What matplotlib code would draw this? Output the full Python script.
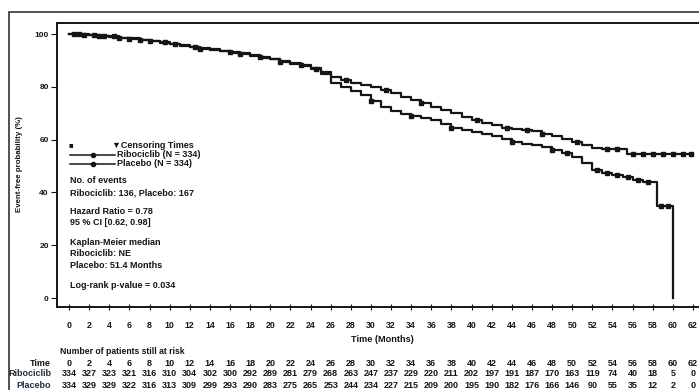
import numpy as np
import matplotlib
matplotlib.use("Agg")
import matplotlib.pyplot as plt
from matplotlib.patches import Rectangle
from matplotlib.transforms import blended_transform_factory

plt.rcParams['font.family'] = ['Liberation Sans', 'DejaVu Sans']

# --- data ---
ribo_t = [0, 1, 2, 3, 4, 5, 6, 7, 8, 9, 10, 11, 12, 13, 14, 15, 16, 17, 18, 19,
          20, 21, 22, 23, 24, 25, 26, 27, 28, 29, 30, 31, 32, 33, 34, 35, 36, 37,
          38, 39, 40, 41, 42, 43, 44, 45, 46, 47, 48, 49, 50, 51, 52, 53, 55.4, 62]
ribo_p = [100, 99.8, 99.6, 99.3, 99.0, 98.7, 98.4, 97.9, 97.4, 96.9, 96.4, 95.8,
          95.2, 94.7, 94.2, 93.7, 93.2, 92.7, 92.0, 91.3, 90.6, 89.9, 89.2, 88.2,
          87.0, 85.6, 83.6, 82.6, 81.6, 80.8, 80.0, 78.8, 77.5, 76.2, 75.0, 73.8,
          72.5, 71.2, 70.0, 68.6, 67.4, 66.4, 65.4, 64.6, 64.0, 63.6, 63.2, 62.2,
          61.2, 60.2, 59.0, 57.9, 56.8, 56.5, 54.5, 54.5]

plac_t = [0, 1, 2, 3, 4, 5, 6, 7, 8, 9, 10, 11, 12, 13, 14, 15, 16, 17, 18, 19,
          20, 21, 22, 23, 24, 25, 26, 27, 28, 29, 30, 31, 32, 33, 34, 35, 36, 37,
          38, 39, 40, 41, 42, 43, 44, 45, 46, 47, 48, 49, 50, 51, 52, 53, 54, 55,
          56, 57, 58.4, 60]
plac_p = [100, 99.9, 99.7, 99.4, 99.1, 98.7, 98.3, 97.8, 97.3, 96.8, 96.3, 95.6,
          95.0, 94.5, 94.0, 93.5, 93.0, 92.4, 91.8, 91.1, 90.4, 89.6, 88.8, 87.9,
          86.8, 84.8, 81.4, 79.8, 78.3, 76.9, 74.6, 72.3, 71.0, 69.8, 68.9, 68.1,
          67.4, 65.9, 64.4, 63.7, 63.0, 62.2, 61.4, 60.2, 59.1, 58.4, 57.8, 57.2,
          56.0, 54.8, 53.4, 51.0, 48.5, 47.3, 46.6, 45.8, 44.6, 43.9, 34.8, 0]

ribo_cens = [0.5, 1.5, 2.5, 3.5, 5, 7, 9.5, 12.5, 16, 19, 23, 27.5, 31.5, 35,
             40.5, 43.5, 45.5, 47, 50.5, 53.5, 54.5, 56, 57, 58, 59, 60, 61, 61.8]
plac_cens = [1, 3, 4.5, 6, 8, 10.5, 13, 17, 21, 24.5, 30, 34, 38, 44, 48,
             49.5, 52.5, 53.5, 54.5, 55.5, 56.5, 57.5, 58.8, 59.5]

risk_times = [0, 2, 4, 6, 8, 10, 12, 14, 16, 18, 20, 22, 24, 26, 28, 30, 32, 34,
              36, 38, 40, 42, 44, 46, 48, 50, 52, 54, 56, 58, 60, 62]
ribo_risk = [334, 327, 323, 321, 316, 310, 304, 302, 300, 292, 289, 281, 279, 268,
             263, 247, 237, 229, 220, 211, 202, 197, 191, 187, 170, 163, 119, 74,
             40, 18, 5, 0]
plac_risk = [334, 329, 329, 322, 316, 313, 309, 299, 293, 290, 283, 275, 265, 253,
             244, 234, 227, 215, 209, 200, 195, 190, 182, 176, 166, 146, 90, 55,
             35, 12, 2, 0]


def step_value(times, probs, t):
    i = np.searchsorted(times, t, side='right') - 1
    return probs[i]


ink = '#151515'
fig = plt.figure(figsize=(6.99, 3.90), dpi=100)
ax = fig.add_axes([57 / 699, 1 - 307 / 390, 1 - 57 / 699, (307 - 23) / 390])

# --- 1. curves ---
ax.plot(ribo_t, ribo_p, drawstyle='steps-post', color=ink, lw=1.6)
ax.plot(plac_t, plac_p, drawstyle='steps-post', color=ink, lw=1.6)
ax.plot(ribo_cens, [step_value(ribo_t, ribo_p, t) for t in ribo_cens], 's',
        color=ink, ms=2.6)
ax.plot(plac_cens, [step_value(plac_t, plac_p, t) for t in plac_cens], 's',
        color=ink, ms=2.6)

ax.set_xlim(-1.2, 62.6)
ax.set_ylim(-3.4, 104.2)
ax.set_xticks(risk_times)
ax.set_yticks([0, 20, 40, 60, 80, 100])
ax.tick_params(axis='x', direction='inout', length=4, width=0.8, pad=8,
               labelsize=6.3, colors=ink)
ax.tick_params(axis='y', direction='out', length=4, width=0.8, pad=2,
               labelsize=6, colors=ink)
for lab in ax.get_xticklabels() + ax.get_yticklabels():
    lab.set_fontweight('bold')
ax.spines['right'].set_visible(False)
for s in ['left', 'bottom', 'top']:
    ax.spines[s].set_linewidth(1.4)
    ax.spines[s].set_color(ink)

# --- 2. legend and statistics inside the plot ---
tkw = dict(fontsize=6.5, fontweight='bold', color=ink, va='center')
ax.text(-0.1, 57.6, '■', fontsize=5.5, color=ink, va='center')
ax.text(4.3, 57.6, '▼Censoring Times', **tkw)
ax.plot([0.1, 4.6], [54.2, 54.2], color=ink, lw=1.1)
ax.plot([2.4], [54.2], 'o', color=ink, ms=3)
ax.text(4.8, 54.2, 'Ribociclib (N = 334)', **tkw)
ax.plot([0.1, 4.6], [50.8, 50.8], color=ink, lw=1.1)
ax.plot([2.4], [50.8], 'o', color=ink, ms=3)
ax.text(4.8, 50.8, 'Placebo (N = 334)', **tkw)
ax.text(0.1, 44.7, 'No. of events', **tkw)
ax.text(0.1, 39.8, 'Ribociclib: 136, Placebo: 167', **tkw)
ax.text(0.1, 32.6, 'Hazard Ratio = 0.78', **tkw)
ax.text(0.1, 28.8, '95 % CI [0.62, 0.98]', **tkw)
ax.text(0.1, 21.2, 'Kaplan-Meier median', **tkw)
ax.text(0.1, 16.7, 'Ribociclib: NE', **tkw)
ax.text(0.1, 12.5, 'Placebo: 51.4 Months', **tkw)
ax.text(0.1, 4.9, 'Log-rank p-value = 0.034', **tkw)

# --- 3. axis titles ---
fig.text(20 / 699, 1 - 164 / 390, 'Event-free probability (%)', rotation=90,
         fontsize=5.7, fontweight='bold', color=ink, ha='center', va='center')
fig.text(382 / 699, 1 - 340 / 390, 'Time (Months)', fontsize=6.6,
         fontweight='bold', color=ink, ha='center', va='center')

# --- 4. number at risk table ---
tr = blended_transform_factory(ax.transData, fig.transFigure)
fig.text(60 / 699, 1 - 351 / 390, 'Number of patients still at risk',
         fontsize=6.2, fontweight='bold', color=ink, va='center')
rows = [('Time', risk_times, 364, ink),
        ('Ribociclib', ribo_risk, 374, '#1d3040'),
        ('Placebo', plac_risk, 385, '#1d3040')]
for name, vals, ypx, col in rows:
    fig.text(51 / 699, 1 - ypx / 390, name, fontsize=6.5, fontweight='bold',
             color=col, ha='right', va='center')
    for t, v in zip(risk_times, vals):
        ax.text(t, 1 - ypx / 390, str(v), transform=tr, fontsize=6.5,
                fontweight='bold', color=ink, ha='center', va='center')

# outer frame of the scanned figure
fig.patches.append(Rectangle((9 / 699, -0.05), 1.0, 1 - 12 / 390 + 0.05,
                             transform=fig.transFigure, fill=False,
                             lw=1.2, ec='#333333'))

fig.savefig('out.png', dpi=100, facecolor='white')
